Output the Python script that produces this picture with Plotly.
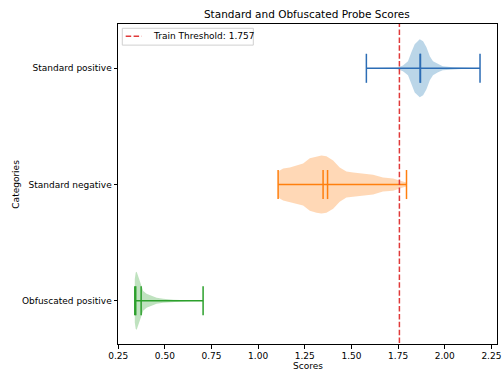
import plotly.graph_objects as go

# ---- data ----
categories = ["Standard positive", "Standard negative", "Obfuscated positive"]
positions = [3, 2, 1]
colors = ["#2c6db5", "#ff7f0e", "#2ca02c"]
fills = ["rgba(31,119,180,0.3)", "rgba(255,127,14,0.3)", "rgba(44,160,44,0.3)"]

# violin outlines: score values and relative density (1 = widest point)
sp_x = [1.580, 1.700, 1.748, 1.776, 1.803, 1.821, 1.839, 1.866, 1.884, 1.902,
        1.920, 1.937, 1.964, 1.989, 2.043, 2.107, 2.189]
sp_d = [0.0, 0.01, 0.03, 0.10, 0.24, 0.55, 0.83, 1.0, 0.93, 0.72,
        0.41, 0.24, 0.14, 0.07, 0.035, 0.015, 0.0]

sn_x = [1.107, 1.134, 1.170, 1.206, 1.241, 1.277, 1.313, 1.339, 1.366, 1.402,
        1.437, 1.473, 1.509, 1.562, 1.616, 1.669, 1.723, 1.776, 1.795]
sn_d = [0.45, 0.55, 0.59, 0.66, 0.72, 0.90, 0.97, 1.0, 0.97, 0.83,
        0.59, 0.45, 0.41, 0.38, 0.34, 0.24, 0.21, 0.10, 0.07]

op_x = [0.339, 0.344, 0.349, 0.357, 0.370, 0.384, 0.402, 0.429, 0.456, 0.491,
        0.545, 0.616, 0.705]
op_d = [0.75, 0.97, 1.0, 0.86, 0.59, 0.34, 0.24, 0.17, 0.10, 0.07,
        0.035, 0.017, 0.0]

mins = [1.580, 1.107, 0.339]
maxs = [2.189, 1.795, 0.705]
means = [1.870, 1.372, 0.373]
medians = [1.868, 1.348, 0.344]

threshold = 1.757
xticks = [0.25, 0.50, 0.75, 1.00, 1.25, 1.50, 1.75, 2.00, 2.25]

# ---- styling ----
HALF_WIDTH = 0.25
CAP = 0.125
FONT = "DejaVu Sans"
RED = "#e03a3a"
DASH = "5.5px,2.4px"

fig = go.Figure()

shapes_data = [(sp_x, sp_d), (sn_x, sn_d), (op_x, op_d)]
for (xs, ds), pos, fc in zip(shapes_data, positions, fills):
    top = [pos + d * HALF_WIDTH for d in ds]
    bot = [pos - d * HALF_WIDTH for d in ds]
    fig.add_trace(go.Scatter(
        x=xs + xs[::-1], y=top + bot[::-1], fill="toself", fillcolor=fc,
        mode="lines", line=dict(width=0), hoverinfo="skip", showlegend=False))

for i, pos in enumerate(positions):
    lx, ly = [], []
    lx += [mins[i], maxs[i], None]; ly += [pos, pos, None]
    for v in (mins[i], maxs[i], means[i], medians[i]):
        lx += [v, v, None]; ly += [pos - CAP, pos + CAP, None]
    fig.add_trace(go.Scatter(x=lx, y=ly, mode="lines",
                             line=dict(color=colors[i], width=1.5),
                             hoverinfo="skip", showlegend=False))

fig.add_trace(go.Scatter(x=[threshold, threshold], y=[0.5, 3.5], mode="lines",
                         line=dict(color=RED, width=1.5, dash=DASH),
                         name=f"Train Threshold: {threshold}", showlegend=False))

# legend drawn as shapes + text (matplotlib-style compact box)
shapes = [
    dict(type="rect", xref="paper", yref="paper", x0=0.0113, x1=0.357,
         y0=0.934, y1=0.9866, line=dict(color="#d0d0d0", width=1),
         fillcolor="rgba(255,255,255,0.8)", layer="above"),
    dict(type="line", xref="paper", yref="paper", x0=0.0203, x1=0.0625,
         y0=0.9616, y1=0.9616, line=dict(color=RED, width=1.5, dash=DASH),
         layer="above"),
]

fig.update_layout(
    width=503, height=370,
    margin=dict(l=118, r=6, t=24, b=26, autoexpand=False),
    paper_bgcolor="white", plot_bgcolor="white",
    font=dict(family=FONT, size=9, color="black"),
    title=dict(text="Standard and Obfuscated Probe Scores", x=0.61, xanchor="center",
               y=1 - 14 / 370, yanchor="middle", font=dict(size=10.5, family=FONT)),
    showlegend=False,
    shapes=shapes,
    xaxis=dict(range=[0.249, 2.28], tickvals=xticks, automargin=False,
               ticktext=[f"{t:.2f}" for t in xticks],
               showgrid=False, zeroline=False, showline=True, mirror=True,
               linecolor="black", linewidth=1, ticks="outside", ticklen=3.5,
               tickwidth=0.8, tickcolor="black", tickfont=dict(size=9)),
    yaxis=dict(range=[0.628, 3.381], tickvals=positions, ticktext=categories,
               automargin=False,
               showgrid=False, zeroline=False, showline=True, mirror=True,
               linecolor="black", linewidth=1, ticks="outside", ticklen=3.5,
               tickwidth=0.8, tickcolor="black", tickfont=dict(size=9)),
    annotations=[
        dict(text=f"Train Threshold: {threshold}", xref="paper", yref="paper",
             x=0.0859, y=0.9616, xanchor="left", yanchor="middle", showarrow=False,
             font=dict(size=9, family=FONT)),
        dict(text="Scores", xref="paper", yref="paper", x=0.5, y=-0.07,
             xanchor="center", yanchor="middle", showarrow=False,
             font=dict(size=9, family=FONT)),
        dict(text="Categories", xref="paper", yref="paper", x=-0.27, y=0.5,
             xanchor="center", yanchor="middle", textangle=-90, showarrow=False,
             font=dict(size=9, family=FONT)),
    ],
)

fig.write_html("out.html")
